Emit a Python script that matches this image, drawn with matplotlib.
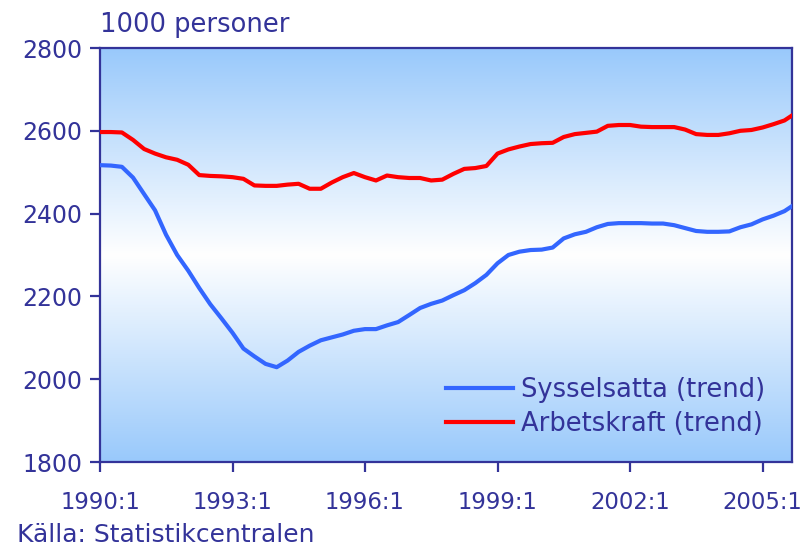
#!/usr/bin/env python3
"""Sysselsatta och arbetskraft (trend), 1000 personer, 1990-2005."""

import matplotlib
matplotlib.use('Agg')
import matplotlib.pyplot as plt
import matplotlib.dates as mdates
import numpy as np
import pandas as pd
from matplotlib.colors import LinearSegmentedColormap

# quarterly readings 1990:1 .. 2005:7, plus last month 2005:9
DATES = list(pd.date_range('1990-01-01', '2005-07-01', freq='QS')) + [
    pd.Timestamp('2005-09-01')
]

SYSSELSATTA = [
    2517, 2516, 2513, 2487, 2447, 2408, 2349, 2300, 2262, 2220,
    2181, 2147, 2112, 2074, 2055, 2037, 2029, 2045, 2066, 2081,
    2094, 2101, 2108, 2117, 2121, 2121, 2130, 2138, 2155, 2172,
    2182, 2190, 2203, 2215, 2232, 2252, 2280, 2300, 2308, 2312,
    2313, 2318, 2340, 2350, 2356, 2367, 2375, 2377, 2377, 2377,
    2376, 2376, 2372, 2365, 2358, 2356, 2356, 2357, 2367, 2374,
    2386, 2395, 2406, 2418,
]

ARBETSKRAFT = [
    2597, 2597, 2596, 2578, 2556, 2545, 2536, 2530, 2518, 2493,
    2491, 2490, 2488, 2484, 2468, 2467, 2467, 2470, 2472, 2460,
    2460, 2475, 2488, 2498, 2488, 2480, 2492, 2488, 2486, 2486,
    2480, 2482, 2496, 2508, 2510, 2515, 2545, 2555, 2562, 2568,
    2570, 2571, 2585, 2592, 2595, 2598, 2612, 2614, 2614, 2610,
    2609, 2609, 2609, 2603, 2592, 2590, 2590, 2594, 2600, 2602,
    2608, 2616, 2625, 2637,
]

TICK_YEARS = [1990, 1993, 1996, 1999, 2002, 2005]
NAVY = '#333399'


def main():
    fig = plt.figure(figsize=(8.02, 5.49), dpi=100)
    ax = fig.add_axes([100 / 802, 1 - 462 / 549, 692 / 802, 414 / 549])

    # vertical gradient: blue at top and bottom, white in the middle
    cmap = LinearSegmentedColormap.from_list(
        'bg', ['#99c9fb', '#ffffff', '#99c9fb'])
    grad = np.linspace(0, 1, 256).reshape(-1, 1)
    ax.imshow(grad, extent=[0, 1, 0, 1], transform=ax.transAxes,
              aspect='auto', cmap=cmap, zorder=0)

    ax.plot(DATES, SYSSELSATTA, color='#3366ff', lw=3,
            label='Sysselsatta (trend)', zorder=3)
    ax.plot(DATES, ARBETSKRAFT, color='#ff0000', lw=3,
            label='Arbetskraft (trend)', zorder=3)

    ax.set_xlim(pd.Timestamp('1990-01-01'), pd.Timestamp('2005-09-01'))
    ax.set_ylim(1800, 2800)
    ax.set_yticks(range(1800, 2801, 200))
    ticks = [pd.Timestamp(f'{y}-01-01') for y in TICK_YEARS]
    ax.set_xticks(mdates.date2num(ticks))
    ax.set_xticklabels([f'{y}:1' for y in TICK_YEARS])

    for s in ax.spines.values():
        s.set_color(NAVY)
        s.set_linewidth(1.6)
    ax.tick_params(colors=NAVY, labelcolor=NAVY, labelsize=17,
                   length=7, width=1.6)
    ax.tick_params(axis='x', pad=14, labelsize=16.4)
    ax.tick_params(axis='y', pad=6)

    fig.text(100 / 802, 1 - 25 / 549, '1000 personer', color=NAVY,
             fontsize=18.5, ha='left', va='center')
    fig.text(17 / 802, 1 - 535 / 549, 'Källa: Statistikcentralen',
             color=NAVY, fontsize=18, ha='left', va='center')

    leg = ax.legend(loc='lower right', bbox_to_anchor=(0.961, 0.06),
                    frameon=False, fontsize=18.5, handlelength=2.6,
                    handletextpad=0.3, labelspacing=0.3,
                    borderpad=0, borderaxespad=0)
    for t in leg.get_texts():
        t.set_color(NAVY)

    fig.savefig('out.png', dpi=100)


if __name__ == '__main__':
    main()
